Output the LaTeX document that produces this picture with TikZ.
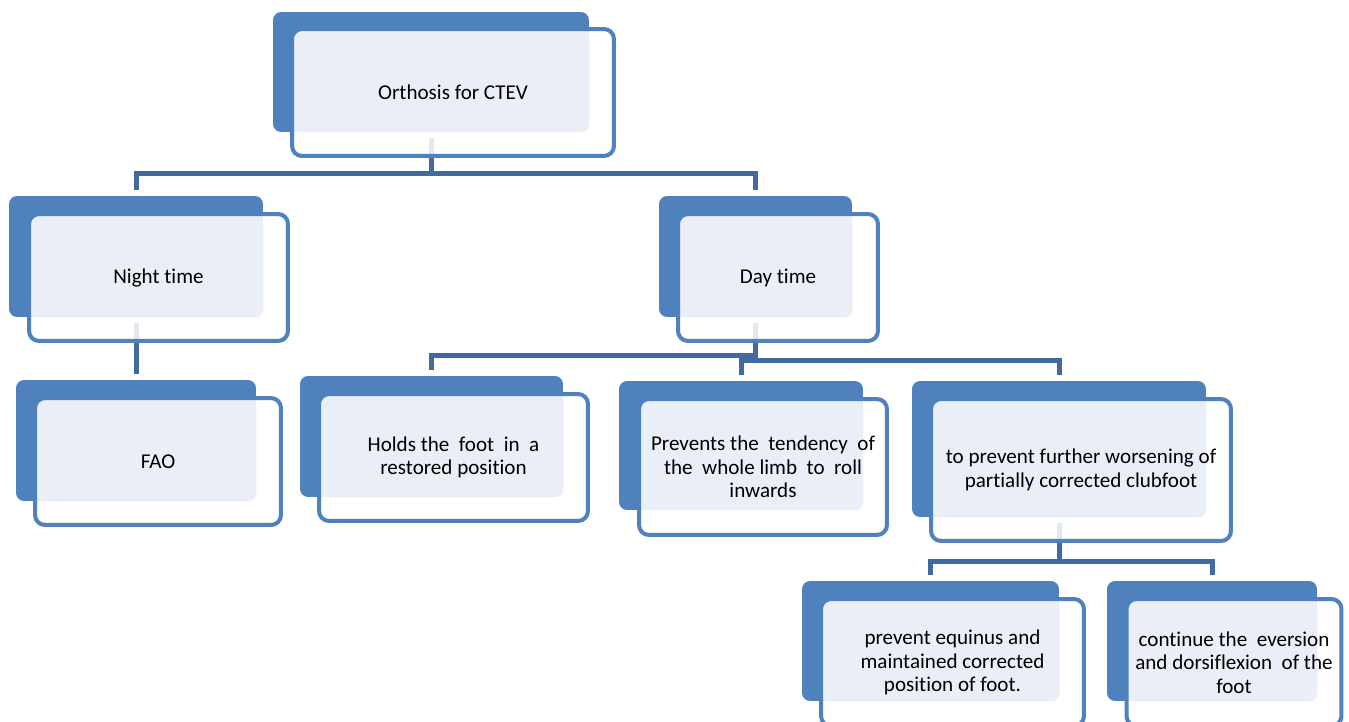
\documentclass[tikz,border=0pt]{standalone}
\usepackage{fontspec}
\setmainfont{Carlito}[Ligatures=NoCommon]
\usepackage{tikz}
\usetikzlibrary{positioning, backgrounds}
\definecolor{boxblue}{RGB}{79,129,189}
\definecolor{boxlight}{RGB}{234,239,247}
\definecolor{linkblue}{RGB}{65,106,160}

\begin{document}
\begin{tikzpicture}[x=0.02cm, y=-0.02cm,
		backbox/.style={fill=boxblue, rounded corners=0.16cm, inner sep=0pt},
		frontbox/.style={draw=boxblue, line width=0.08cm, fill=white, fill opacity=0.85, text opacity=1, rounded corners=0.2cm, inner sep=0pt, align=center, font=\fontsize{12}{13.4}\selectfont,
			path picture={\fill[boxlight, fill opacity=1, rounded corners=0.16cm] (path picture bounding box.north west) rectangle (#1.south east);}},
		link/.style={draw=linkblue, line width=0.1cm, shorten <=0.12cm, shorten >=0.12cm}]
		\useasboundingbox (0,0) rectangle (1349,722);
		
		\node(root-b) [backbox, minimum width=6.32cm, minimum height=2.4cm] at (431,72) {};
		\node(root) [frontbox=root-b, minimum width=6.44cm, minimum height=2.54cm] at (453,92.5) {Orthosis for CTEV};
		
		\node(night-b) [backbox, minimum width=5.08cm, minimum height=2.42cm] at (136,256.5) {};
		\node(night) [frontbox=night-b, minimum width=5.18cm, minimum height=2.54cm] at (158.5,277.5) {Night time};
		\node(fao-b) [backbox, minimum width=4.8cm, minimum height=2.42cm] at (136,440.5) {};
		\node(fao) [frontbox=fao-b, minimum width=4.92cm, minimum height=2.54cm] at (158,461.5) {FAO};
		
		\node(day-b) [backbox, minimum width=3.86cm, minimum height=2.42cm] at (755.5,256.5) {};
		\node(day) [frontbox=day-b, minimum width=4cm, minimum height=2.54cm] at (778,277.5) {Day time};
		\node(holds-b) [backbox, minimum width=5.26cm, minimum height=2.42cm] at (431.5,436.5) {};
		\node(holds) [frontbox=holds-b, minimum width=5.38cm, minimum height=2.54cm] at (453.5,457.5) {Holds the\ \ foot\ \ in\ \ a\\restored position};
		\node(prevents-b) [backbox, minimum width=4.88cm, minimum height=2.58cm] at (741,445.5) {};
		\node(prevents) [frontbox=prevents-b, minimum width=4.96cm, minimum height=2.72cm] at (763,467) {Prevents the\ \ tendency\ \ of\\the\ \ whole limb\ \ to\ \ roll\\inwards};
		\node(worsen-b) [backbox, minimum width=5.88cm, minimum height=2.72cm] at (1059,449) {};
		\node(worsen) [frontbox=worsen-b, minimum width=6cm, minimum height=2.84cm] at (1081,470) {to prevent further worsening of\\partially corrected clubfoot};
		
		\node(equinus-b) [backbox, minimum width=5.14cm, minimum height=2.4cm] at (930.5,641) {};
		\node(equinus) [frontbox=equinus-b, minimum width=5.26cm, minimum height=2.54cm] at (952.5,662.5) {prevent equinus and\\maintained corrected\\position of foot.};
		\node(eversion-b) [backbox, minimum width=4.2cm, minimum height=2.4cm] at (1212,641) {};
		\node(eversion) [frontbox=eversion-b, minimum width=4.3cm, minimum height=2.54cm] at (1234,662.5) {continue the\ \ eversion\\and dorsiflexion\ \ of the\\foot};
		
		% connectors behind the boxes
		\begin{scope}[on background layer]
		\draw[link] (root-b.south) -- ++(0,41) -| (night-b.north);
		\draw[link] (root-b.south) -- ++(0,41) -| (day-b.north);
		\draw[link] (night-b.south) -- (fao-b.north);
		\draw[link] (day-b.south) -- ++(0,38) -| (holds-b.north);
		\draw[link] (day-b.south) -- ++(0,43) -| (prevents-b.north);
		\draw[link] (day-b.south) -- ++(0,43) -| (worsen-b.north);
		\draw[link] (worsen-b.south) -- ++(0,44) -| (equinus-b.north);
		\draw[link] (worsen-b.south) -- ++(0,44) -| (eversion-b.north);
		\end{scope}
\end{tikzpicture}
\end{document}
